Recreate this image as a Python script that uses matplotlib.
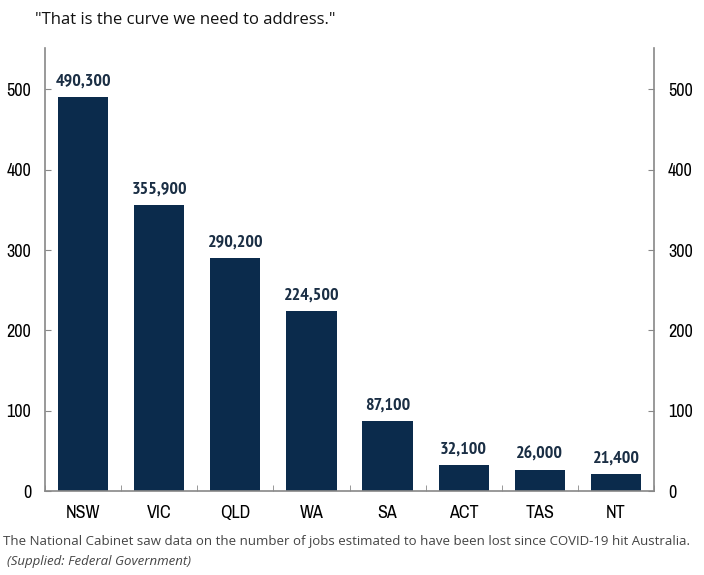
import matplotlib.pyplot as plt
import numpy as np

states = ["NSW", "VIC", "QLD", "WA", "SA", "ACT", "TAS", "NT"]
jobs_lost = [490300, 355900, 290200, 224500, 87100, 32100, 26000, 21400]
y_ticks = [0, 100, 200, 300, 400, 500]

narrow = ["Archivo Narrow", "PT Sans Narrow", "DejaVu Sans"]
narrow_bold = ["PT Sans Narrow", "Archivo Narrow", "DejaVu Sans"]

fig = plt.figure(figsize=(7.04, 5.75), dpi=100)
ax = fig.add_axes([0.064, 0.146, 0.865, 0.771])

x = np.arange(len(states))
vals = np.array(jobs_lost) / 1000
ax.bar(x, vals, width=0.66, color="#0b2b4c")

for xi, v, raw in zip(x, vals, jobs_lost):
    ax.text(xi, v + 9, f"{raw:,}", ha="center", va="bottom",
            fontsize=13, fontweight="bold", color="#1a2e44", family=narrow_bold)

ax.set_xlim(-0.5, 7.5)
ax.set_ylim(0, 552)
ax.set_xticks(x)
ax.set_xticklabels(states, family=narrow, fontsize=13)
ax.set_xticks(np.arange(-0.5, 8, 1), minor=True)
ax.tick_params(axis="x", which="major", length=0, pad=10)
ax.tick_params(axis="x", which="minor", length=4, direction="in", color="#888888")
ax.set_yticks(y_ticks)
ax.set_yticklabels([str(t) for t in y_ticks], family=narrow, fontsize=13)
ax.tick_params(axis="y", length=4, direction="in", color="#888888", pad=10,
               left=True, right=True, labelleft=True, labelright=True)
ax.spines["top"].set_visible(False)
for s in ["left", "right", "bottom"]:
    ax.spines[s].set_color("#888888")
    ax.spines[s].set_linewidth(1.2)

fig.text(0.05, 0.966, '"That is the curve we need to address."', fontsize=12,
         family="Open Sans", color="#111111", va="center")
fig.text(0.004, 0.059, "The National Cabinet saw data on the number of jobs estimated to have been lost since COVID-19 hit Australia.",
         fontsize=9.5, family="Open Sans", color="#444444", va="center")
fig.text(0.01, 0.024, "(Supplied: Federal Government)", fontsize=9.5, family="Open Sans",
         style="italic", color="#444444", va="center")

fig.savefig("out.png", dpi=100)
